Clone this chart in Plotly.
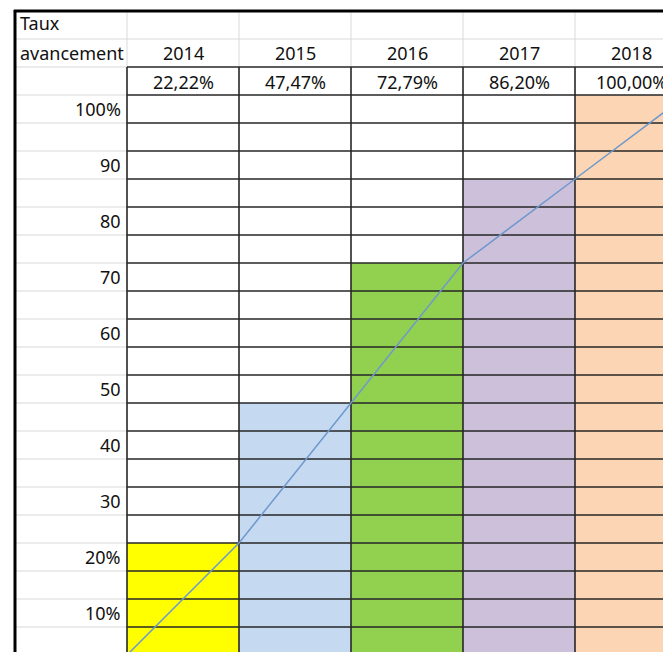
import plotly.graph_objects as go

# ---- data ----
years = ["2014", "2015", "2016", "2017", "2018"]
rates = ["22,22%", "47,47%", "72,79%", "86,20%", "100,00%"]
bar_levels = [20, 45, 70, 85, 100]          # filled height of each column (%)
colors = ["#FFFF00", "#C5D9F1", "#92D050", "#CCC0DA", "#FCD5B4"]
row_labels = ["100%", "90", "80", "70", "60", "50", "40", "30", "20%", "10%"]
row_values = [100, 90, 80, 70, 60, 50, 40, 30, 20, 10]
line_start = 0

FONT = "Noto Sans"
FS = 18
BLACK = "#262626"
GRAY = "#D9D9D9"
OFF = 8  # page body margin in px

fig = go.Figure()

# coloured columns (column i spans x = i+1 .. i+2)
xc = [i + 1.5 for i in range(len(years))]
fig.add_trace(go.Bar(x=xc, y=bar_levels, width=1, marker=dict(color=colors, line=dict(width=0)),
                     hoverinfo="skip", showlegend=False))

ncol = len(years)
right = ncol + 2

def seg_trace(segs, color, width):
    xs, ys = [], []
    for (x0, y0, x1, y1) in segs:
        xs += [x0, x1, None]
        ys += [y0, y1, None]
    fig.add_trace(go.Scatter(x=xs, y=ys, mode="lines", line=dict(color=color, width=width),
                             hoverinfo="skip", showlegend=False))

# light gray grid in label column and header rows
gray = [(0, v, 1, v) for v in range(5, 115, 5)]
gray.append((1, 110, right, 110))
gray += [(c, 105, c, 115) for c in range(1, ncol + 1)]
seg_trace(gray, GRAY, 1)
# black cell borders in data area
black = [(1, v, right, v) for v in range(0, 110, 5)]
black += [(c, -5, c, 105) for c in range(1, ncol + 2)]
seg_trace(black, BLACK, 1.6)
# thick outer border
seg_trace([(0, -5, 0, 115.2), (-0.01, 115, right, 115)], "#000000", 3)

# progress line through the top-right corners of the columns
lx = [i + 1 for i in range(len(years) + 1)]
ly = [line_start] + bar_levels
fig.add_trace(go.Scatter(x=lx, y=ly, mode="lines", line=dict(color="#6F98CC", width=1.5),
                         hoverinfo="skip", showlegend=False))

ann = []
def txt(x, y, s, anchor):
    ann.append(dict(x=x, y=y, xref="x", yref="y", text=s, showarrow=False,
                    xanchor=anchor, yanchor="middle", font=dict(family=FONT, size=FS, color="#111111")))

txt(0.03, 112.9, "Taux", "left")
txt(0.03, 107.5, "avancement", "left")
for i, (yr, r) in enumerate(zip(years, rates)):
    txt(xc[i], 107.5, yr, "center")
    txt(xc[i], 102.4, r, "center")
for lab, v in zip(row_labels, row_values):
    txt(0.968, v - 2.55, lab, "right")

W, H = 671 - OFF, 652 - OFF
fig.update_layout(
    width=W, height=H, margin=dict(l=0, r=0, t=0, b=0),
    paper_bgcolor="white", plot_bgcolor="white",
    xaxis=dict(range=[(OFF - 15) / 112, (671 - 15) / 112], visible=False, fixedrange=True),
    yaxis=dict(range=[(655 - 652) / 5.6, (655 - OFF) / 5.6], visible=False, fixedrange=True),
    annotations=ann, bargap=0,
)

fig.write_html("out.html", config={"displayModeBar": False},
               post_script="document.documentElement.style.overflow='hidden';document.body.style.overflow='hidden';")
